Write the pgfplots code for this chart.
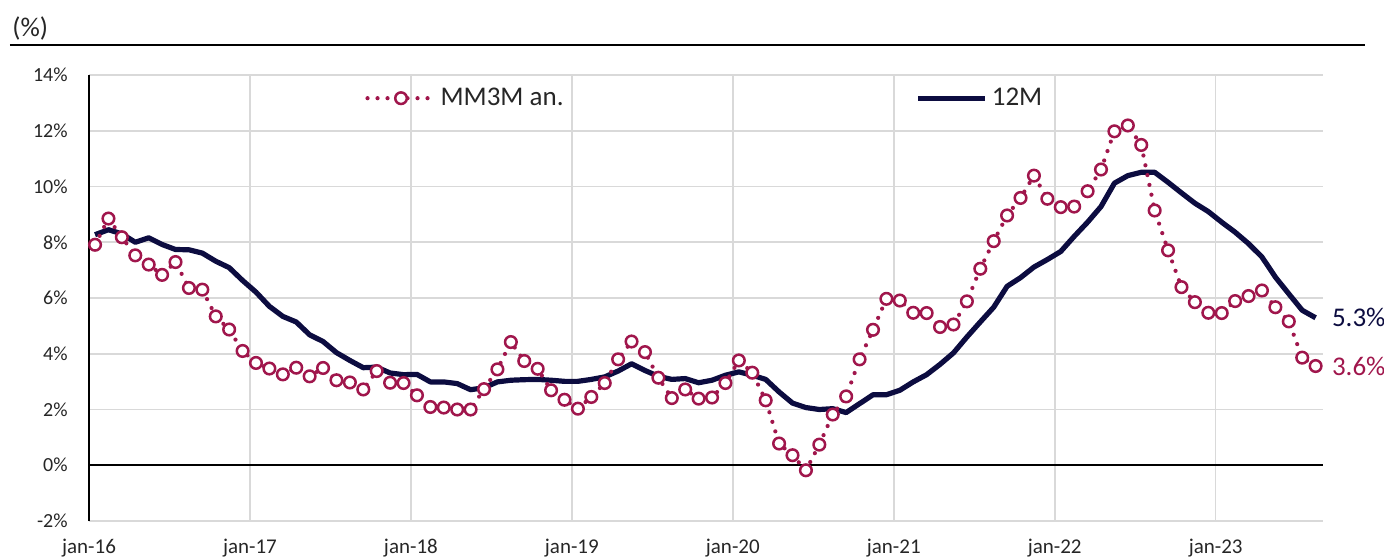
\documentclass[border=0pt]{standalone}
\usepackage{pgfplots}
\pgfplotsset{compat=1.18}
\usepackage{pgfplotstable}
\usepackage{fontspec}
\setmainfont{Carlito}
\definecolor{navy}{HTML}{0C0C40}
\definecolor{rasp}{HTML}{A0164C}
\definecolor{gridg}{HTML}{D9D9D9}

\pgfplotstableread{
i mm tw
0 7.91 8.27
1 8.85 8.45
2 8.18 8.30
3 7.53 8.00
4 7.20 8.16
5 6.83 7.92
6 7.29 7.74
7 6.36 7.73
8 6.30 7.61
9 5.34 7.32
10 4.87 7.09
11 4.10 6.63
12 3.67 6.21
13 3.47 5.70
14 3.26 5.34
15 3.50 5.14
16 3.19 4.68
17 3.49 4.44
18 3.05 4.04
19 2.97 3.76
20 2.72 3.50
21 3.38 3.52
22 2.96 3.31
23 2.95 3.25
24 2.51 3.26
25 2.09 2.99
26 2.07 2.99
27 2.00 2.93
28 2.00 2.71
29 2.73 2.78
30 3.44 2.99
31 4.42 3.05
32 3.74 3.07
33 3.46 3.08
34 2.69 3.05
35 2.35 3.01
36 2.03 3.01
37 2.45 3.08
38 2.95 3.17
39 3.80 3.38
40 4.44 3.64
41 4.06 3.40
42 3.14 3.19
43 2.41 3.08
44 2.72 3.11
45 2.39 2.96
46 2.43 3.05
47 2.95 3.23
48 3.76 3.35
49 3.32 3.23
50 2.33 3.08
51 0.78 2.63
52 0.36 2.23
53 -0.18 2.07
54 0.74 2.00
55 1.82 2.03
56 2.47 1.89
57 3.80 2.21
58 4.86 2.53
59 5.97 2.53
60 5.91 2.69
61 5.47 2.99
62 5.46 3.25
63 4.96 3.62
64 5.05 4.03
65 5.88 4.60
66 7.05 5.14
67 8.04 5.67
68 8.96 6.42
69 9.59 6.73
70 10.39 7.11
71 9.56 7.38
72 9.26 7.67
73 9.28 8.21
74 9.83 8.72
75 10.61 9.28
76 11.98 10.12
77 12.19 10.39
78 11.49 10.51
79 9.14 10.51
80 7.71 10.15
81 6.39 9.77
82 5.85 9.40
83 5.47 9.10
84 5.46 8.72
85 5.89 8.36
86 6.07 7.95
87 6.27 7.47
88 5.67 6.75
89 5.16 6.15
90 3.86 5.56
91 3.56 5.29
}\data

\begin{document}
\begin{tikzpicture}
\path[use as bounding box] (-44.5pt,-18.5pt) rectangle (647.5pt,260.5pt);
\node[anchor=west, inner sep=0pt, font=\fontsize{13.5}{16}\selectfont, text=black!85] at (-38.5pt,246.5pt) {(\%)};
\draw[black, line width=1pt] (-39.5pt,238pt) -- (638pt,238pt);
\begin{axis}[
  at={(0,0)}, anchor=south west,
  scale only axis, width=617pt, height=223pt,
  xmin=0, xmax=92, ymin=-2, ymax=14,
  clip=false,
  axis lines*=left,
  axis line style={-},
  x axis line style={draw=gridg, line width=0.8pt},
  y axis line style={draw=black, line width=1.2pt},
  xtick={0,12,...,84},
  xticklabels={jan-16,jan-17,jan-18,jan-19,jan-20,jan-21,jan-22,jan-23},
  ytick={-2,0,...,14},
  yticklabels={-2\%,0\%,2\%,4\%,6\%,8\%,10\%,12\%,14\%},
  grid=major, grid style={draw=gridg, line width=0.8pt},
  major tick length=0pt,
  xticklabel style={font=\fontsize{10.5}{12}\selectfont, text=black!85, anchor=base, inner sep=0pt, yshift=-16pt},
  yticklabel style={font=\fontsize{10}{12}\selectfont, text=black!85, anchor=east, inner sep=0pt, xshift=-10.5pt},
  legend style={draw=none, fill=none, font=\fontsize{13.5}{16}\selectfont, text=black!85,
    at={(0.2237,0.948)}, anchor=west, inner sep=0pt,
    /tikz/every even column/.append style={column sep=174pt}},
  legend columns=2,
  reverse legend,
  legend cell align=left,
  legend image code/.code={\draw[mark repeat=2, mark phase=2, #1] plot coordinates {(0pt,0pt) (16.75pt,0pt) (33.5pt,0pt)};},
]
\addplot[black, line width=1pt, forget plot] coordinates {(0,0) (92,0)};
\addplot[navy, line width=2.6pt, line join=round] table[x expr=\thisrow{i}+0.45, y=tw] {\data};
\addlegendentry{12M}
\addplot[rasp, line width=2.1pt, line cap=round, dash pattern=on 0pt off 5pt,
  mark=*, mark size=2.9pt, mark options={solid, line width=1.25pt, draw=rasp, fill=white}]
  table[x expr=\thisrow{i}+0.45, y=mm] {\data};
\addlegendentry{MM3M an.}
\node[anchor=west, inner sep=0pt, text=navy, font=\fontsize{13.5}{16}\selectfont] at (axis cs:91.45,5.29) [xshift=8pt] {5.3\%};
\node[anchor=west, inner sep=0pt, text=rasp, font=\fontsize{13.5}{16}\selectfont] at (axis cs:91.45,3.56) [xshift=8pt] {3.6\%};
\end{axis}
\end{tikzpicture}
\end{document}
